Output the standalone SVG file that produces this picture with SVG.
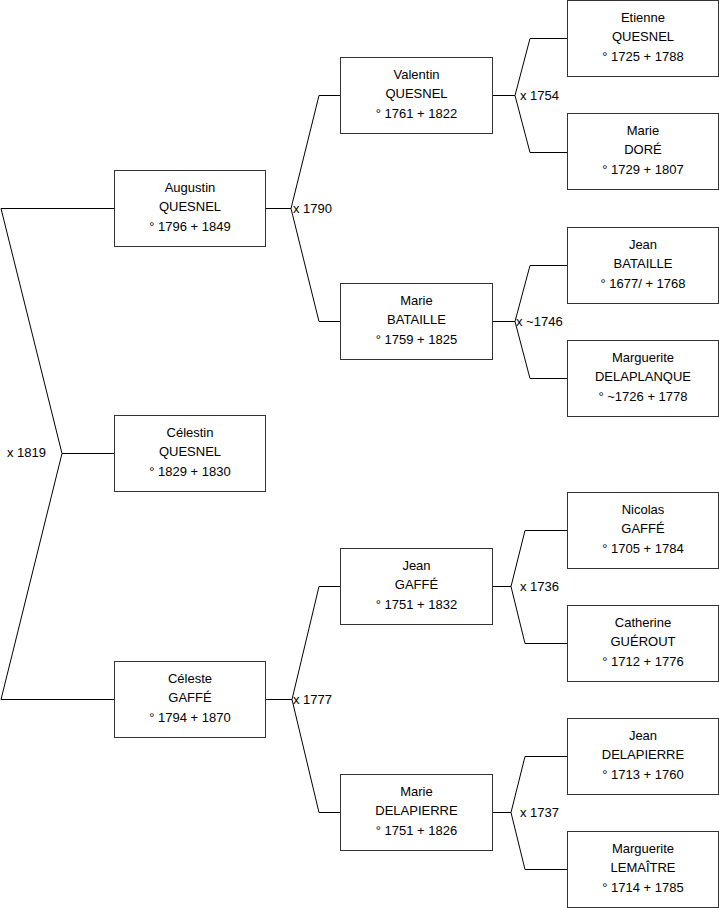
<svg xmlns="http://www.w3.org/2000/svg" width="719" height="908" viewBox="0 0 719 908">
<style>
.box{fill:#fff;stroke:#333;stroke-width:1}
.t{font-family:"Liberation Sans",Arial,sans-serif;font-size:13px;fill:#000;text-anchor:middle}
.l{font-family:"Liberation Sans",Arial,sans-serif;font-size:13px;fill:#000}
.c{fill:none;stroke:#000;stroke-width:1}
</style>
<rect width="719" height="908" fill="#fff"/>
<g id="connectors">
<path class="c" d="M1,208.5H114.5M1,208.5L62,453.5H114.5M62,453.5L1,699.5H114.5"/>
<path class="c" d="M265.5,208.5H291M319,95.5L291,208.5L319,321.5M319,95.5H340.5M319,321.5H340.5"/>
<path class="c" d="M265.5,699.5H292M319,586.5L292,699.5L319,812.5M319,586.5H340.5M319,812.5H340.5"/>
<path class="c" d="M492.5,95.5H515M530,38.5L515,95.5L530,152.5M530,38.5H567.5M530,152.5H567.5"/>
<path class="c" d="M492.5,321.5H515M530,265.5L515,321.5L530,378.5M530,265.5H567.5M530,378.5H567.5"/>
<path class="c" d="M492.5,586.5H511M525,530.5L511,586.5L525,643.5M525,530.5H567.5M525,643.5H567.5"/>
<path class="c" d="M492.5,812.5H511M525,756.5L511,812.5L525,869.5M525,756.5H567.5M525,869.5H567.5"/>
<text class="l" x="7" y="457">x 1819</text>
<text class="l" x="293" y="212.5">x 1790</text>
<text class="l" x="293" y="703.5">x 1777</text>
<text class="l" x="520" y="99.5">x 1754</text>
<text class="l" x="516" y="325.5">x ~1746</text>
<text class="l" x="520" y="590.5">x 1736</text>
<text class="l" x="520" y="816.5">x 1737</text>
</g>
<g id="augustin"><rect class="box" x="114.5" y="170.5" width="151" height="76"/><text class="t" x="190" y="191.5">Augustin</text><text class="t" x="190" y="211">QUESNEL</text><text class="t" x="190" y="230.5">° 1796 + 1849</text></g>
<g id="celestin"><rect class="box" x="114.5" y="415.5" width="151" height="76"/><text class="t" x="190" y="436.5">Célestin</text><text class="t" x="190" y="456">QUESNEL</text><text class="t" x="190" y="475.5">° 1829 + 1830</text></g>
<g id="celeste"><rect class="box" x="114.5" y="661.5" width="151" height="76"/><text class="t" x="190" y="682.5">Céleste</text><text class="t" x="190" y="702">GAFFÉ</text><text class="t" x="190" y="721.5">° 1794 + 1870</text></g>
<g id="valentin"><rect class="box" x="340.5" y="57.5" width="152" height="76"/><text class="t" x="416.5" y="78.5">Valentin</text><text class="t" x="416.5" y="98">QUESNEL</text><text class="t" x="416.5" y="117.5">° 1761 + 1822</text></g>
<g id="marie-bataille"><rect class="box" x="340.5" y="283.5" width="152" height="76"/><text class="t" x="416.5" y="304.5">Marie</text><text class="t" x="416.5" y="324">BATAILLE</text><text class="t" x="416.5" y="343.5">° 1759 + 1825</text></g>
<g id="jean-gaffe"><rect class="box" x="340.5" y="548.5" width="152" height="76"/><text class="t" x="416.5" y="569.5">Jean</text><text class="t" x="416.5" y="589">GAFFÉ</text><text class="t" x="416.5" y="608.5">° 1751 + 1832</text></g>
<g id="marie-delapierre"><rect class="box" x="340.5" y="774.5" width="152" height="76"/><text class="t" x="416.5" y="795.5">Marie</text><text class="t" x="416.5" y="815">DELAPIERRE</text><text class="t" x="416.5" y="834.5">° 1751 + 1826</text></g>
<g id="etienne"><rect class="box" x="567.5" y="0.5" width="151" height="76"/><text class="t" x="643" y="21.5">Etienne</text><text class="t" x="643" y="41">QUESNEL</text><text class="t" x="643" y="60.5">° 1725 + 1788</text></g>
<g id="marie-dore"><rect class="box" x="567.5" y="113.5" width="151" height="76"/><text class="t" x="643" y="134.5">Marie</text><text class="t" x="643" y="154">DORÉ</text><text class="t" x="643" y="173.5">° 1729 + 1807</text></g>
<g id="jean-bataille"><rect class="box" x="567.5" y="227.5" width="151" height="76"/><text class="t" x="643" y="248.5">Jean</text><text class="t" x="643" y="268">BATAILLE</text><text class="t" x="643" y="287.5">° 1677/ + 1768</text></g>
<g id="marguerite-delaplanque"><rect class="box" x="567.5" y="340.5" width="151" height="76"/><text class="t" x="643" y="361.5">Marguerite</text><text class="t" x="643" y="381">DELAPLANQUE</text><text class="t" x="643" y="400.5">° ~1726 + 1778</text></g>
<g id="nicolas"><rect class="box" x="567.5" y="492.5" width="151" height="76"/><text class="t" x="643" y="513.5">Nicolas</text><text class="t" x="643" y="533">GAFFÉ</text><text class="t" x="643" y="552.5">° 1705 + 1784</text></g>
<g id="catherine"><rect class="box" x="567.5" y="605.5" width="151" height="76"/><text class="t" x="643" y="626.5">Catherine</text><text class="t" x="643" y="646">GUÉROUT</text><text class="t" x="643" y="665.5">° 1712 + 1776</text></g>
<g id="jean-delapierre"><rect class="box" x="567.5" y="718.5" width="151" height="76"/><text class="t" x="643" y="739.5">Jean</text><text class="t" x="643" y="759">DELAPIERRE</text><text class="t" x="643" y="778.5">° 1713 + 1760</text></g>
<g id="marguerite-lemaitre"><rect class="box" x="567.5" y="831.5" width="151" height="76"/><text class="t" x="643" y="852.5">Marguerite</text><text class="t" x="643" y="872">LEMAÎTRE</text><text class="t" x="643" y="891.5">° 1714 + 1785</text></g>
</svg>
